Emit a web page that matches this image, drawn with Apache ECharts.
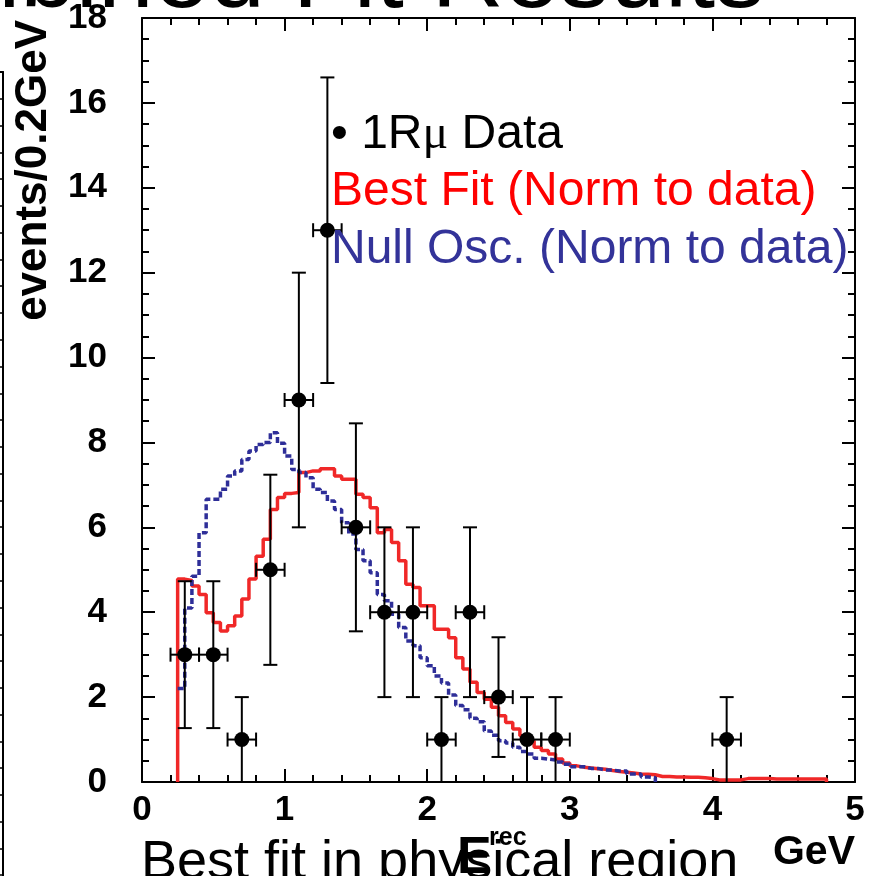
<!DOCTYPE html>
<html>
<head>
<meta charset="utf-8">
<script src="https://cdn.jsdelivr.net/npm/echarts@6/dist/echarts.min.js"></script>
<style>
  html, body { margin: 0; padding: 0; background: #ffffff; }
  #chart { width: 874px; height: 876px; }
</style>
</head>
<body>
<div id="chart"></div>
<script>
// Histogram binning (GeV)
const binStart = 0.25;
const binWidth = 0.05;

// Best-fit prediction, normalised to data (events per bin, from binStart)
const bestFit = [
  4.78, 4.75, 4.62, 4.42, 3.99, 3.76, 3.56, 3.68, 3.91, 4.31,
  4.78, 5.32, 5.72, 6.42, 6.70, 6.80, 6.82, 7.29, 7.33, 7.33,
  7.38, 7.38, 7.21, 7.13, 7.13, 6.78, 6.70, 6.46, 5.87, 5.95,
  5.64, 5.21, 4.66, 4.58, 4.15, 4.15, 3.60, 3.60, 3.40, 2.93,
  2.66, 2.35, 2.11, 1.95, 1.76, 1.56, 1.40, 1.25, 1.09, 0.97,
  0.82, 0.74, 0.66, 0.54, 0.45, 0.38, 0.35, 0.33, 0.31, 0.30,
  0.27, 0.25, 0.23, 0.21, 0.19, 0.18, 0.17, 0.13, 0.13, 0.12,
  0.12, 0.11, 0.11, 0.10, 0.08, 0.05, 0.05, 0.05, 0.05, 0.08,
  0.08, 0.08, 0.08, 0.07, 0.07, 0.07, 0.07, 0.07, 0.07, 0.07,
  0.07
];

// No-oscillation prediction, normalised to data (events per bin, from binStart)
const nullOsc = [
  2.20, 4.10, 4.85, 5.87, 6.66, 6.66, 6.90, 7.21, 7.33, 7.60,
  7.80, 7.95, 8.00, 8.23, 7.98, 7.68, 7.36, 7.29, 7.17, 6.90,
  6.82, 6.62, 6.42, 6.11, 5.84, 5.48, 5.21, 4.93, 4.42, 4.27,
  3.95, 3.64, 3.32, 3.21, 2.93, 2.74, 2.50, 2.33, 2.05, 1.80,
  1.70, 1.50, 1.42, 1.20, 1.10, 0.97, 0.92, 0.82, 0.72, 0.66,
  0.56, 0.54, 0.52, 0.47, 0.42, 0.36, 0.36, 0.32, 0.32, 0.28,
  0.28, 0.26, 0.26, 0.19, 0.19, 0.12, 0.10
];

// 1R-mu data: bin centres, counts, vertical and horizontal errors
const dataE = [0.3, 0.5, 0.7, 0.9, 1.1, 1.3, 1.5, 1.7, 1.9, 2.1, 2.3, 2.5, 2.7, 2.9, 4.1];
const dataN = [3, 3, 1, 5, 9, 13, 6, 4, 4, 1, 4, 2, 1, 1, 1];
const dataErrN = [1.73, 1.73, 1.0, 2.24, 3.0, 3.6, 2.45, 2.0, 2.0, 1.0, 2.0, 1.41, 1.0, 1.0, 1.0];
const dataErrE = [0.1, 0.1, 0.1, 0.1, 0.1, 0.1, 0.1, 0.1, 0.1, 0.1, 0.1, 0.1, 0.1, 0.1, 0.1];

// Axis tick labels
const xTickLabels = ['0', '1', '2', '3', '4', '5'];
const yTickLabels = ['0', '2', '4', '6', '8', '10', '12', '14', '16', '18'];

const FONT = '"Liberation Sans", Arial, Helvetica, sans-serif';
const RED = '#f02828';
const BLUE = '#2e2e98';

// Turn per-bin contents into the outline of a step histogram
function histOutline(values, start, width, fromZero) {
  const pts = [];
  if (fromZero) pts.push([start, 0]);
  values.forEach((v, i) => {
    const lo = start + i * width;
    pts.push([lo, v], [lo + width, v]);
  });
  pts.push([start + values.length * width, 0]);
  return pts;
}

const pointData = dataE.map((e, i) => [e, dataN[i], dataErrN[i], dataErrE[i]]);

function renderPoint(params, api) {
  const x = api.value(0), y = api.value(1), ey = api.value(2), ex = api.value(3);
  const c = api.coord([x, y]);
  const top = api.coord([x, y + ey]);
  const bot = api.coord([x, Math.max(0, y - ey)]);
  const lft = api.coord([x - ex, y]);
  const rgt = api.coord([x + ex, y]);
  const ls = { stroke: '#000', lineWidth: 2 };
  const cap = 7;
  const kids = [
    { type: 'line', shape: { x1: c[0], y1: top[1], x2: c[0], y2: bot[1] }, style: ls },
    { type: 'line', shape: { x1: lft[0], y1: c[1], x2: rgt[0], y2: c[1] }, style: ls },
    { type: 'line', shape: { x1: c[0] - cap, y1: top[1], x2: c[0] + cap, y2: top[1] }, style: ls },
    { type: 'line', shape: { x1: lft[0], y1: c[1] - cap, x2: lft[0], y2: c[1] + cap }, style: ls },
    { type: 'line', shape: { x1: rgt[0], y1: c[1] - cap, x2: rgt[0], y2: c[1] + cap }, style: ls },
    { type: 'circle', shape: { cx: c[0], cy: c[1], r: 7.5 }, style: { fill: '#000' } }
  ];
  if (y - ey > 0) {
    kids.push({ type: 'line', shape: { x1: c[0] - cap, y1: bot[1], x2: c[0] + cap, y2: bot[1] }, style: ls });
  }
  return { type: 'group', children: kids };
}

const axisLineStyle = { show: true, onZero: false, lineStyle: { color: '#000', width: 2 } };
const majorTick = { show: true, inside: true, length: 13, lineStyle: { color: '#000', width: 2 } };

const chart = echarts.init(document.getElementById('chart'), null, { renderer: 'canvas' });

chart.setOption({
  animation: false,
  backgroundColor: '#ffffff',
  grid: [
    { left: 142, right: 19, top: 18, bottom: 94, outerBoundsMode: 'none', containLabel: false },
    // right edge of the neighbouring panel
    { left: -400, width: 403, top: 72, height: 830, outerBoundsMode: 'none', containLabel: false }
  ],
  xAxis: [
    {
      type: 'value', gridIndex: 0, position: 'bottom', min: 0, max: 5, interval: 1,
      axisLine: axisLineStyle, axisTick: majorTick,
      minorTick: { show: true, splitNumber: 5, length: 7, lineStyle: { color: '#000', width: 2 } },
      splitLine: { show: false },
      axisLabel: {
        show: true, margin: 11, color: '#000', fontSize: 35, fontWeight: 'bold', fontFamily: FONT,
        formatter: (v) => xTickLabels[Math.round(v)]
      }
    },
    {
      type: 'value', gridIndex: 0, position: 'top', min: 0, max: 5, interval: 1,
      axisLine: axisLineStyle, axisTick: majorTick,
      minorTick: { show: true, splitNumber: 5, length: 7, lineStyle: { color: '#000', width: 2 } },
      splitLine: { show: false },
      axisLabel: { show: false }
    },
    {
      type: 'value', gridIndex: 1, position: 'top', min: 0, max: 1,
      axisLine: axisLineStyle, axisTick: { show: false }, axisLabel: { show: false }, splitLine: { show: false }
    }
  ],
  yAxis: [
    {
      type: 'value', gridIndex: 0, position: 'left', min: 0, max: 18, interval: 2,
      axisLine: axisLineStyle, axisTick: majorTick,
      minorTick: { show: true, splitNumber: 4, length: 7, lineStyle: { color: '#000', width: 2 } },
      splitLine: { show: false },
      axisLabel: {
        show: true, margin: 35, color: '#000', fontSize: 35, fontWeight: 'bold', fontFamily: FONT,
        formatter: (v) => yTickLabels[Math.round(v / 2)]
      }
    },
    {
      type: 'value', gridIndex: 0, position: 'right', min: 0, max: 18, interval: 2,
      axisLine: axisLineStyle, axisTick: majorTick,
      minorTick: { show: true, splitNumber: 4, length: 7, lineStyle: { color: '#000', width: 2 } },
      splitLine: { show: false },
      axisLabel: { show: false }
    },
    {
      type: 'value', gridIndex: 1, position: 'right', inverse: true, min: 0, max: 31, interval: 1,
      axisLine: { show: true, onZero: false, lineStyle: { color: '#000', width: 2 } },
      axisTick: { show: true, inside: true, length: 5, lineStyle: { color: '#000', width: 1.5 } },
      axisLabel: { show: false }, splitLine: { show: false }
    }
  ],
  series: [
    {
      name: 'Best Fit (Norm to data)', type: 'line', xAxisIndex: 0, yAxisIndex: 0,
      data: histOutline(bestFit, binStart, binWidth, true),
      showSymbol: false, symbol: 'none', z: 3,
      lineStyle: { color: RED, width: 3.5 }
    },
    {
      name: 'Null Osc. (Norm to data)', type: 'line', xAxisIndex: 0, yAxisIndex: 0,
      data: histOutline(nullOsc, binStart, binWidth, false),
      showSymbol: false, symbol: 'none', z: 4,
      lineStyle: { color: BLUE, width: 3.5, type: [6, 3] }
    },
    {
      name: '1R\u03bc Data', type: 'custom', xAxisIndex: 0, yAxisIndex: 0,
      data: pointData, renderItem: renderPoint, z: 5,
      encode: { x: 0, y: 1 }
    }
  ],
  graphic: [
    // slide title, mostly above the frame
    { type: 'text', x: 765, y: -21, z: 10,
      style: { text: 'Combined Fit Results', font: '100px ' + FONT, fill: '#000', align: 'right', verticalAlign: 'middle' } },
    // legend text
    { type: 'text', x: 331, y: 135, z: 10,
      style: {
        text: '{a|\u2022 1R}{m|\u03bc}{a| Data}',
        rich: {
          a: { fontSize: 48, fontFamily: FONT, fill: '#000' },
          m: { fontSize: 48, fontFamily: '"Liberation Serif", "DejaVu Serif", serif', fill: '#000' }
        },
        align: 'left', verticalAlign: 'middle'
      } },
    { type: 'text', x: 331, y: 192, z: 10,
      style: { text: 'Best Fit (Norm to data)', font: '48px ' + FONT, fill: '#ff0000', align: 'left', verticalAlign: 'middle' } },
    { type: 'text', x: 331, y: 250, z: 10,
      style: { text: 'Null Osc. (Norm to data)', font: '48px ' + FONT, fill: '#333399', align: 'left', verticalAlign: 'middle' } },
    // axis titles
    { type: 'text', x: 34, y: 20, rotation: Math.PI / 2, z: 10,
      style: { text: 'events/0.2GeV', font: 'bold 44px ' + FONT, fill: '#000', align: 'right', verticalAlign: 'middle' } },
    { type: 'text', x: 457, y: 859, z: 10,
      style: { text: 'E', font: 'bold 52px ' + FONT, fill: '#000', align: 'left', verticalAlign: 'middle' } },
    { type: 'text', x: 489, y: 838, z: 10,
      style: { text: 'rec', font: 'bold 25px ' + FONT, fill: '#000', align: 'left', verticalAlign: 'middle' } },
    { type: 'text', x: 855, y: 853, z: 10,
      style: { text: 'GeV', font: 'bold 41px ' + FONT, fill: '#000', align: 'right', verticalAlign: 'middle' } },
    // slide caption below the plot
    { type: 'text', x: 141, y: 863, z: 9,
      style: { text: 'Best fit in physical region', font: '54px ' + FONT, fill: '#000', align: 'left', verticalAlign: 'middle' } }
  ]
});
</script>
</body>
</html>
